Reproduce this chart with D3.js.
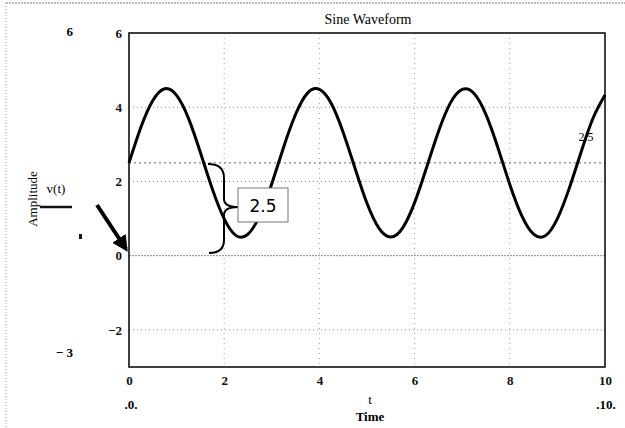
<!DOCTYPE html>
<html>
<head>
<meta charset="utf-8">
<script src="https://cdn.jsdelivr.net/npm/d3@7"></script>
<style>
  body { margin: 0; background: #fff; }
  svg { display: block; font-family: "Liberation Serif", serif; }
</style>
</head>
<body>
<div id="chart"></div>
<script>
// Sine waveform, Mathcad style plot

// values, t step 0.25
const timeVals = [0, 0.25, 0.5, 0.75, 1, 1.25, 1.5, 1.75, 2, 2.25, 2.5, 2.75, 3, 3.25, 3.5, 3.75, 4, 4.25, 4.5, 4.75,
  5, 5.25, 5.5, 5.75, 6, 6.25, 6.5, 6.75, 7, 7.25, 7.5, 7.75, 8, 8.25, 8.5, 8.75, 9, 9.25, 9.5, 9.75, 10];
const ampVals = [2.5, 3.46, 4.18, 4.5, 4.32, 3.7, 2.78, 1.8, 0.99, 0.54, 0.58, 1.09, 1.94, 2.93, 3.81, 4.38, 4.48, 4.1, 3.32, 2.35,
  1.41, 0.74, 0.5, 0.75, 1.43, 2.37, 3.34, 4.11, 4.48, 4.37, 3.8, 2.91, 1.92, 1.08, 0.58, 0.54, 1.0, 1.82, 2.8, 3.71, 4.33];
const xTicks = [0, 2, 4, 6, 8, 10];
const yTicks = [-2, 0, 2, 4, 6];
const xGrid = [2, 4, 6, 8];
const yGrid = [-2, 0, 2, 4];
const markerVal = 2.5;

const [W, H] = [625, 428];
const plot = {left: 129, right: 605, top: 33, bottom: 367};

const svg = d3.select("#chart").append("svg")
  .attr("width", W)
  .attr("height", H);

const xScale = d3.scaleLinear().domain([0, 10]).range([plot.left, plot.right]);
const yScale = d3.scaleLinear().domain([-3, 6]).range([plot.bottom, plot.top]);

// outer region border (dotted)
svg.append("line").attr("x1", 6).attr("x2", W).attr("y1", 3).attr("y2", 3)
  .attr("stroke", "#777").attr("stroke-dasharray", "2,1");
svg.append("line").attr("x1", 6).attr("x2", 6).attr("y1", 3).attr("y2", H)
  .attr("stroke", "#999").attr("stroke-dasharray", "1,2");

// grid
svg.append("g").selectAll("line.hg").data(yGrid).enter().append("line")
  .attr("class", "hg")
  .attr("x1", plot.left).attr("x2", plot.right)
  .attr("y1", d => yScale(d)).attr("y2", d => yScale(d))
  .attr("stroke", "#8a8a8a")
  .attr("stroke-dasharray", d => d === 0 ? "2,1" : "1,3");

svg.append("g").selectAll("line.vg").data(xGrid).enter().append("line")
  .attr("class", "vg")
  .attr("y1", plot.top).attr("y2", plot.bottom)
  .attr("x1", d => xScale(d)).attr("x2", d => xScale(d))
  .attr("stroke", "#a0a0a0")
  .attr("stroke-dasharray", "1,4");

// marker line at 2.5
svg.append("line")
  .attr("x1", plot.left).attr("x2", plot.right)
  .attr("y1", yScale(markerVal)).attr("y2", yScale(markerVal))
  .attr("stroke", "#666").attr("stroke-dasharray", "2,3");
svg.append("text")
  .attr("x", plot.right - 19).attr("y", yScale(markerVal) - 22)
  .attr("text-anchor", "middle")
  .style("font-size", "12px")
  .text(markerVal);

// frame
svg.append("rect")
  .attr("x", plot.left).attr("y", plot.top)
  .attr("width", plot.right - plot.left).attr("height", plot.bottom - plot.top)
  .attr("fill", "none").attr("stroke", "#111").attr("stroke-width", 1.6);

// axes
const xAxis = d3.axisBottom(xScale).tickValues(xTicks).tickSize(0).tickPadding(9).tickFormat(d3.format("d"));
svg.append("g").attr("id", "x-axis")
  .attr("transform", `translate(0,${plot.bottom})`)
  .call(xAxis);

const yAxis = d3.axisLeft(yScale).tickValues(yTicks).tickSize(0).tickPadding(7)
  .tickFormat(d => d < 0 ? "\u2212" + Math.abs(d) : d);
svg.append("g").attr("id", "y-axis")
  .attr("transform", `translate(${plot.left},0)`)
  .call(yAxis);

svg.selectAll("#x-axis .domain, #y-axis .domain").remove();
svg.selectAll("#x-axis text, #y-axis text")
  .style("font-family", "Liberation Serif, serif")
  .style("font-size", "13px")
  .style("font-weight", "bold")
  .attr("fill", "#111");

// waveform
const line = d3.line()
  .x((d, i) => xScale(timeVals[i]))
  .y(d => yScale(d))
  .curve(d3.curveNatural);

svg.append("path")
  .datum(ampVals)
  .attr("d", line)
  .attr("fill", "none")
  .attr("stroke", "#000")
  .attr("stroke-width", 3);

// title
svg.append("text")
  .attr("x", 368).attr("y", 24)
  .attr("text-anchor", "middle")
  .style("font-size", "14px")
  .text("Sine Waveform");

// left labels (Mathcad limits and trace name)
svg.append("text").attr("x", 73).attr("y", 36).attr("text-anchor", "end")
  .style("font-size", "13px").style("font-weight", "bold").text("6");
svg.append("text").attr("x", 73).attr("y", 357).attr("text-anchor", "end")
  .style("font-size", "13px").style("font-weight", "bold").text("\u2212 3");

svg.append("text")
  .attr("transform", "translate(37,199) rotate(-90)")
  .attr("text-anchor", "middle")
  .style("font-size", "13px")
  .text("Amplitude");

svg.append("text").attr("x", 56).attr("y", 193).attr("text-anchor", "middle")
  .style("font-size", "13px").text("v(t)");
svg.append("line").attr("x1", 40).attr("x2", 72).attr("y1", 207).attr("y2", 207)
  .attr("stroke", "#111").attr("stroke-width", 2.5);
svg.append("rect").attr("x", 79).attr("y", 234).attr("width", 3).attr("height", 5).attr("fill", "#111");

// arrow pointing to the origin
svg.append("defs").append("marker")
  .attr("id", "head")
  .attr("viewBox", "0 0 10 10")
  .attr("refX", 8).attr("refY", 5)
  .attr("markerWidth", 4).attr("markerHeight", 4)
  .attr("orient", "auto")
  .append("path").attr("d", "M0,0 L10,5 L0,10 Z").attr("fill", "#000");
svg.append("line")
  .attr("x1", 97).attr("y1", 205).attr("x2", 126).attr("y2", 249)
  .attr("stroke", "#000").attr("stroke-width", 4)
  .attr("marker-end", "url(#head)");

// brace and value box
svg.append("path")
  .attr("d", "M208,164 Q224,164 224,178 L224,199 Q224,207 238,207 Q224,207 224,215 L224,240 Q224,253 209,253")
  .attr("fill", "none").attr("stroke", "#000").attr("stroke-width", 2);
svg.append("rect")
  .attr("x", 238).attr("y", 188).attr("width", 50).attr("height", 34)
  .attr("fill", "#fff").attr("stroke", "#777").attr("stroke-width", 1);
svg.append("text")
  .attr("x", 263).attr("y", 212)
  .attr("text-anchor", "middle")
  .style("font-family", "DejaVu Sans, sans-serif")
  .style("font-size", "17px")
  .text("2.5");

// bottom labels
svg.append("text").attr("x", 131).attr("y", 409).attr("text-anchor", "middle")
  .style("font-size", "13px").style("font-weight", "bold").text(".0.");
svg.append("text").attr("x", 606).attr("y", 409).attr("text-anchor", "middle")
  .style("font-size", "13px").style("font-weight", "bold").text(".10.");
svg.append("text").attr("x", 370).attr("y", 404).attr("text-anchor", "middle")
  .style("font-size", "13px").text("t");
svg.append("text").attr("x", 370).attr("y", 421).attr("text-anchor", "middle")
  .style("font-size", "13px").style("font-weight", "bold").text("Time");
</script>
</body>
</html>
